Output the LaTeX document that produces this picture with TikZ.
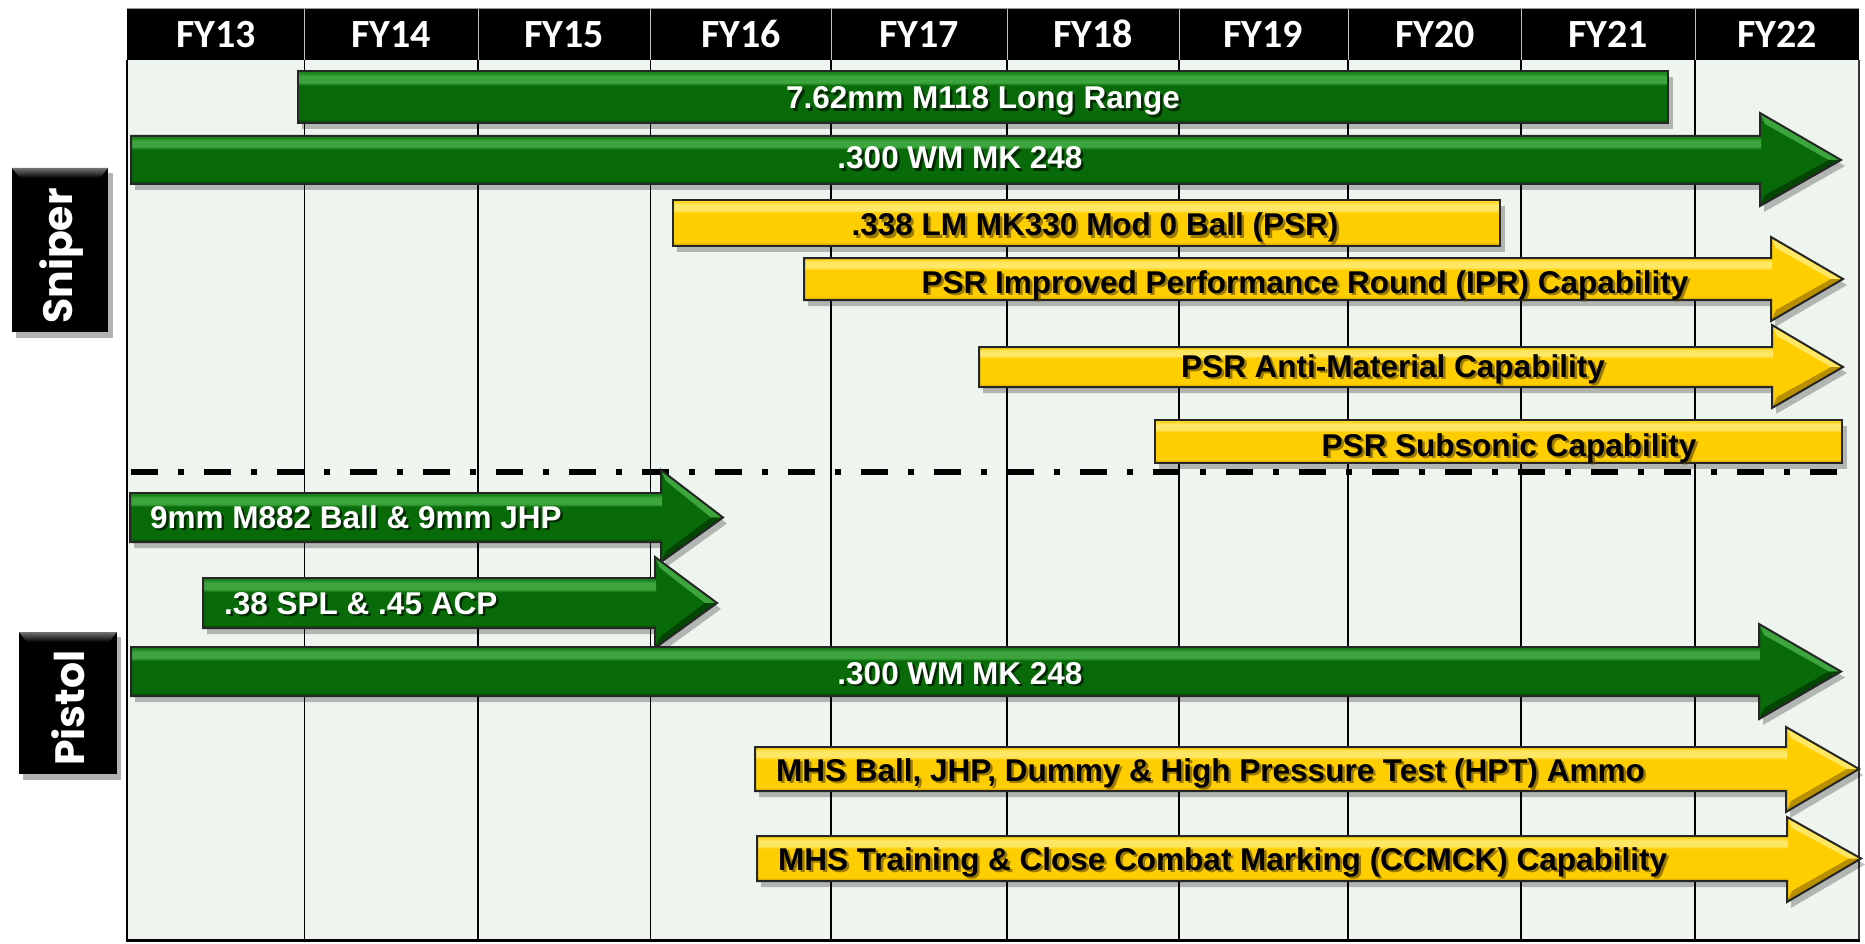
\documentclass[tikz,border=0pt]{standalone}
\usepackage{fontspec}
\setmainfont{Liberation Sans}
\newfontfamily\hdrfont{Carlito}
\newfontfamily\sidefont{Poppins}
\usetikzlibrary{calc}

\definecolor{gmain}{HTML}{086A08}
\definecolor{glight}{HTML}{3DA53D}
\definecolor{gmid}{HTML}{1E861E}
\definecolor{gdark}{HTML}{034503}
\definecolor{ymain}{HTML}{FFCE00}
\definecolor{ylight}{HTML}{FFE766}
\definecolor{ymid}{HTML}{FFD71E}
\definecolor{ydark}{HTML}{B88F00}
\definecolor{bodybg}{HTML}{EEF4EE}
\definecolor{whiteshadow}{HTML}{000000}
\definecolor{blackshadow}{HTML}{5A4500}

\pgfdeclareverticalshading{gbevel}{100bp}{color(0bp)=(gdark); color(25bp)=(gdark); color(29bp)=(gmain); color(61bp)=(gmain); color(64bp)=(glight); color(70bp)=(glight); color(73bp)=(gmid); color(100bp)=(gmid)}
\pgfdeclareverticalshading{ybevel}{100bp}{color(0bp)=(ydark); color(25bp)=(ydark); color(29bp)=(ymain); color(61bp)=(ymain); color(64bp)=(ylight); color(70bp)=(ylight); color(73bp)=(ymid); color(100bp)=(ymid)}

\tikzset{
  barline/.style={line width=2pt, draw=black!85},
  lbltext/.style={font=\bfseries\fontsize{31.5}{36}\selectfont, inner sep=0pt},
  hdr/.style={font=\hdrfont\bfseries\fontsize{40}{44}\selectfont, text=white, inner sep=0pt, anchor=base},
  sidelbl/.style={font=\sidefont\bfseries\fontsize{41}{44}\selectfont, text=white, inner sep=0pt, rotate=90},
  grid/.style={line width=1.2pt, draw=black},
  hdrdiv/.style={line width=1pt, draw=white!75!black},
}

% #1 prefix (g/y), #2 x1, #3 y1, #4 x2, #5 y2
\newcommand{\rectbar}[5]{%
  \fill[black,opacity=0.25] (#2+4,#3+6) rectangle (#4+5,#5+6);
  \shade[shading=#1bevel] (#2,#3) rectangle (#4,#5);
  \draw[barline] (#2,#3) rectangle (#4,#5);
}
% #1 prefix, #2 x1, #3 ytop, #4 ybot, #5 xbase, #6 headtop, #7 headbot, #8 tip
\newcommand{\arrowbar}[8]{%
  \fill[black,opacity=0.25] (#2+4,#3+6) -- (#5+4,#3+6) -- (#5+4,#6+6) -- (#8+4,{(#3+#4)/2+6}) -- (#5+4,#7+6) -- (#5+4,#4+6) -- (#2+4,#4+6) -- cycle;
  \fill[#1main] (#5,#6) -- (#8,{(#3+#4)/2}) -- (#5,#7) -- cycle;
  \fill[#1light] (#5,#6) -- (#8,{(#3+#4)/2}) -- (#8-12,{(#3+#4)/2}) -- (#5+5,#6+11) -- cycle;
  \fill[#1dark] (#5,#7) -- (#8,{(#3+#4)/2}) -- (#8-12,{(#3+#4)/2}) -- (#5+5,#7-11) -- cycle;
  \shade[shading=#1bevel] (#2,#3) rectangle (#5+1,#4);
  \draw[barline, line join=miter] (#2,#3) -- (#5,#3) -- (#5,#6) -- (#8,{(#3+#4)/2}) -- (#5,#7) -- (#5,#4) -- (#2,#4) -- cycle;
}
% #1 name, #2 anchor, #3 x, #4 y, #5 colour, #6 text
\newcommand{\lbl}[6]{%
  \node[lbltext, anchor=#2, text=#5shadow, opacity=0.6] (#1s) at (#3+2.5,#4+2.5) {#6};
  \node[lbltext, anchor=#2, text=#5] (#1) at (#3,#4) {#6};
}

\begin{document}
\begin{tikzpicture}[x=1pt,y=-1pt]
\useasboundingbox (0,0) rectangle (1865,944);
\fill[white] (0,0) rectangle (1865,944);

% body
\fill[bodybg] (127,60) rectangle (1859,940);
\foreach \x in {304.5,478,650.6,831,1007,1179,1348,1521,1695}
  \draw[grid] (\x,60) -- (\x,940);
\draw[line width=2pt] (127,60) -- (127,940);
\draw[line width=2.5pt, draw=black!80] (1859,60) -- (1859,940);
\draw[line width=3pt] (126,940) -- (1860,940);

% header
\fill[black] (127,8) rectangle (1859,60);
\draw[line width=0.8pt, draw=black!40] (127,8) -- (1859,8);
\foreach \x in {304.5,478,650.6,831,1007,1179,1348,1521,1695}
  \draw[hdrdiv] (\x,9) -- (\x,60);
\node[hdr] (fy13) at (216,48) {FY13};
\node[hdr] (fy14) at (391,48) {FY14};
\node[hdr] (fy15) at (564,48) {FY15};
\node[hdr] (fy16) at (741,48) {FY16};
\node[hdr] (fy17) at (919,48) {FY17};
\node[hdr] (fy18) at (1093,48) {FY18};
\node[hdr] (fy19) at (1263,48) {FY19};
\node[hdr] (fy20) at (1435,48) {FY20};
\node[hdr] (fy21) at (1608,48) {FY21};
\node[hdr] (fy22) at (1777,48) {FY22};

% side labels
\fill[black,opacity=0.3] (16,173) rectangle (113,338);
\fill[black] (12,168) rectangle (108,332);
\shade[top color=black!55, bottom color=black] (12,168) -- (108,168) -- (100,178) -- (20,178) -- cycle;
\node[sidelbl] (sniper) at (62,256) {Sniper};

\fill[black,opacity=0.3] (23,637) rectangle (121,780);
\fill[black] (19,632) rectangle (117,774);
\shade[top color=black!55, bottom color=black] (19,632) -- (117,632) -- (109,642) -- (27,642) -- cycle;
\node[sidelbl] (pistol) at (68,708) {Pistol};

% sniper bars
\rectbar{g}{298}{71}{1668}{123}
\lbl{t1}{base}{983}{109}{white}{7.62mm M118 Long Range}
\arrowbar{g}{131}{136}{184}{1760}{113}{206}{1841}
\lbl{t2}{base}{960}{169}{white}{.300 WM MK 248}
\rectbar{y}{673}{200}{1500}{246}
\lbl{t3}{base}{1095}{236}{black}{.338 LM MK330 Mod 0 Ball (PSR)}
\arrowbar{y}{804}{258}{300}{1771}{237}{321}{1843}
\lbl{t4}{base}{1305}{293}{black}{PSR Improved Performance Round (IPR) Capability}
\arrowbar{y}{979}{347}{387}{1772}{325}{408}{1843}
\lbl{t5}{base}{1393}{377}{black}{PSR Anti-Material Capability}
\rectbar{y}{1155}{420}{1842}{463}
\lbl{t6}{base}{1509}{456}{black}{PSR Subsonic Capability}

% divider
\draw[line width=6pt, dash pattern=on 27pt off 20pt on 6pt off 20pt] (131,472) -- (1845,472);

% pistol bars
\arrowbar{g}{130}{493}{542}{661}{470}{562}{723}
\lbl{t7}{base west}{150}{528}{white}{9mm M882 Ball \& 9mm JHP}
\arrowbar{g}{203}{578}{628}{655}{557}{648}{717}
\lbl{t8}{base west}{224}{614}{white}{.38 SPL \& .45 ACP}
\arrowbar{g}{131}{647}{696}{1759}{624}{719}{1841}
\lbl{t9}{base}{960}{684}{white}{.300 WM MK 248}
\arrowbar{y}{755}{747}{791}{1786}{727}{812}{1859}
\lbl{t10}{base west}{776}{781}{black}{MHS Ball, JHP, Dummy \& High Pressure Test (HPT) Ammo}
\arrowbar{y}{757}{836}{881}{1787}{817}{902}{1861}
\lbl{t11}{base west}{778}{870}{black}{MHS Training \& Close Combat Marking (CCMCK) Capability}
\end{tikzpicture}
\end{document}
